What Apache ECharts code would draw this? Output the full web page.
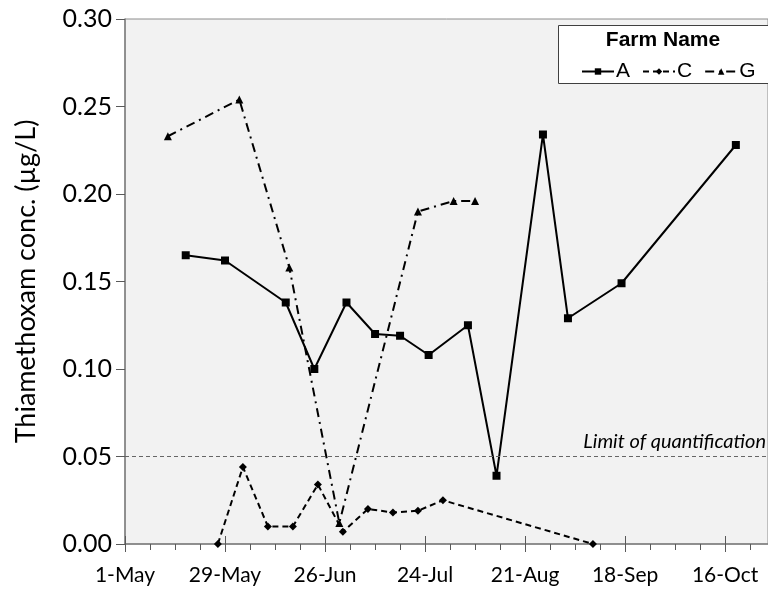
<!DOCTYPE html>
<html>
<head>
<meta charset="utf-8">
<script src="https://cdn.jsdelivr.net/npm/echarts@6/dist/echarts.min.js"></script>
<style>
  html, body { margin: 0; padding: 0; background: #fff; }
  #chart { width: 768px; height: 590px; }
</style>
</head>
<body>
<div id="chart"></div>
<script>
// Sampling dates (MM-DD) and thiamethoxam concentrations (µg/L) per farm
const farmADates  = ['05-18', '05-29', '06-15', '06-23', '07-02', '07-10', '07-17', '07-25', '08-05', '08-13', '08-26', '09-02', '09-17', '10-19'];
const farmAValues = [0.165, 0.162, 0.138, 0.100, 0.138, 0.120, 0.119, 0.108, 0.125, 0.039, 0.234, 0.129, 0.149, 0.228];

const farmCDates  = ['05-27', '06-03', '06-10', '06-17', '06-24', '07-01', '07-08', '07-15', '07-22', '07-29', '09-09'];
const farmCValues = [0.000, 0.044, 0.010, 0.010, 0.034, 0.007, 0.020, 0.018, 0.019, 0.025, 0.000];

const farmGDates  = ['05-13', '06-02', '06-16', '06-30', '07-22', '08-01', '08-07'];
const farmGValues = [0.233, 0.254, 0.158, 0.012, 0.190, 0.196, 0.196];

// Date tick labels, every 28 days starting on 1 May
const xTickLabels = ['1-May', '29-May', '26-Jun', '24-Jul', '21-Aug', '18-Sep', '16-Oct'];
const limitOfQuantification = 0.05;

const SEASON_YEAR = 2015;
const seasonStart = Date.UTC(SEASON_YEAR, 4, 1);
function dayOffset(mmdd) {
  const [m, d] = mmdd.split('-').map(Number);
  return Math.round((Date.UTC(SEASON_YEAR, m - 1, d) - seasonStart) / 86400000);
}
function pairs(dates, values) {
  return dates.map((d, i) => [dayOffset(d), values[i]]);
}

const TICK_DAYS = 28;
const X_MAX = 180;
const labelFont = 'Lato, "Open Sans", sans-serif';
const legendFont = '"Liberation Sans", Arial, sans-serif';

const chart = echarts.init(document.getElementById('chart'), null, { renderer: 'canvas' });

chart.setOption({
  animation: false,
  backgroundColor: '#ffffff',
  grid: {
    left: 125, right: 0, top: 19, bottom: 46,
    show: true, backgroundColor: '#f2f2f2', borderColor: '#8c8c8c', borderWidth: 1
  },
  xAxis: [{
    type: 'value', min: 0, max: X_MAX, interval: TICK_DAYS,
    axisLine: { show: true, lineStyle: { color: '#7f7f7f', width: 1.5 } },
    axisTick: { show: true, inside: false, length: 8, lineStyle: { color: '#595959' } },
    minorTick: { show: true, splitNumber: 4, length: 6, lineStyle: { color: '#595959' } },
    splitLine: { show: false },
    axisLabel: {
      color: '#000', fontFamily: labelFont, fontSize: 21, margin: 21,
      showMaxLabel: false,
      formatter: v => (v % TICK_DAYS === 0 ? (xTickLabels[v / TICK_DAYS] || '') : '')
    }
  }, {
    // Upper half of the major date ticks, so they cross the axis line
    type: 'value', min: 0, max: X_MAX, interval: TICK_DAYS, position: 'bottom',
    axisLine: { show: false },
    axisTick: { show: true, inside: true, length: 8, lineStyle: { color: '#595959' } },
    axisLabel: { show: false },
    splitLine: { show: false }
  }],
  yAxis: {
    type: 'value', min: 0, max: 0.30, interval: 0.05,
    name: 'Thiamethoxam conc. (µg/L)',
    nameLocation: 'middle', nameGap: 85,
    nameTextStyle: { color: '#000', fontFamily: labelFont, fontSize: 27 },
    axisLine: { show: true, lineStyle: { color: '#7f7f7f', width: 1.5 } },
    axisTick: { show: true, inside: false, length: 9, lineStyle: { color: '#595959' } },
    splitLine: { show: false },
    axisLabel: {
      color: '#000', fontFamily: labelFont, fontSize: 25, margin: 13,
      formatter: v => v.toFixed(2)
    }
  },
  legend: {
    data: ['A', 'C', 'G'],
    left: 576, top: 56, width: 300, z: 10,
    itemWidth: 32, itemHeight: 8, itemGap: 12,
    textStyle: { color: '#000', fontFamily: legendFont, fontSize: 21, padding: [0, 0, 0, -3] }
  },
  graphic: [{
    type: 'rect', z: 1,
    shape: { x: 558.5, y: 25.5, width: 220, height: 58 },
    style: { fill: '#ffffff', stroke: '#404040', lineWidth: 1 }
  }, {
    type: 'text', z: 2,
    style: {
      x: 663, y: 40, text: 'Farm Name', align: 'center', verticalAlign: 'middle',
      font: 'bold 21px "Liberation Sans", Arial, sans-serif', fill: '#000'
    }
  }],
  series: [{
    name: 'A', type: 'line',
    data: pairs(farmADates, farmAValues),
    symbol: 'rect', symbolSize: 8,
    lineStyle: { color: '#000', width: 2, type: 'solid' },
    itemStyle: { color: '#000' },
    markLine: {
      silent: true, symbol: 'none',
      lineStyle: { color: '#666', width: 1, type: [4, 3] },
      label: {
        show: true, position: 'insideEndTop', formatter: 'Limit of quantification',
        color: '#000', fontFamily: labelFont, fontStyle: 'italic', fontSize: 20,
        distance: [2, 5]
      },
      data: [{ yAxis: limitOfQuantification }]
    }
  }, {
    name: 'C', type: 'line',
    data: pairs(farmCDates, farmCValues),
    symbol: 'diamond', symbolSize: 8,
    lineStyle: { color: '#000', width: 2, type: [6, 4] },
    itemStyle: { color: '#000' }
  }, {
    name: 'G', type: 'line',
    data: pairs(farmGDates, farmGValues),
    symbol: 'triangle', symbolSize: 8,
    lineStyle: { color: '#000', width: 2, type: [9, 5, 2, 5] },
    itemStyle: { color: '#000' }
  }]
});
</script>
</body>
</html>
